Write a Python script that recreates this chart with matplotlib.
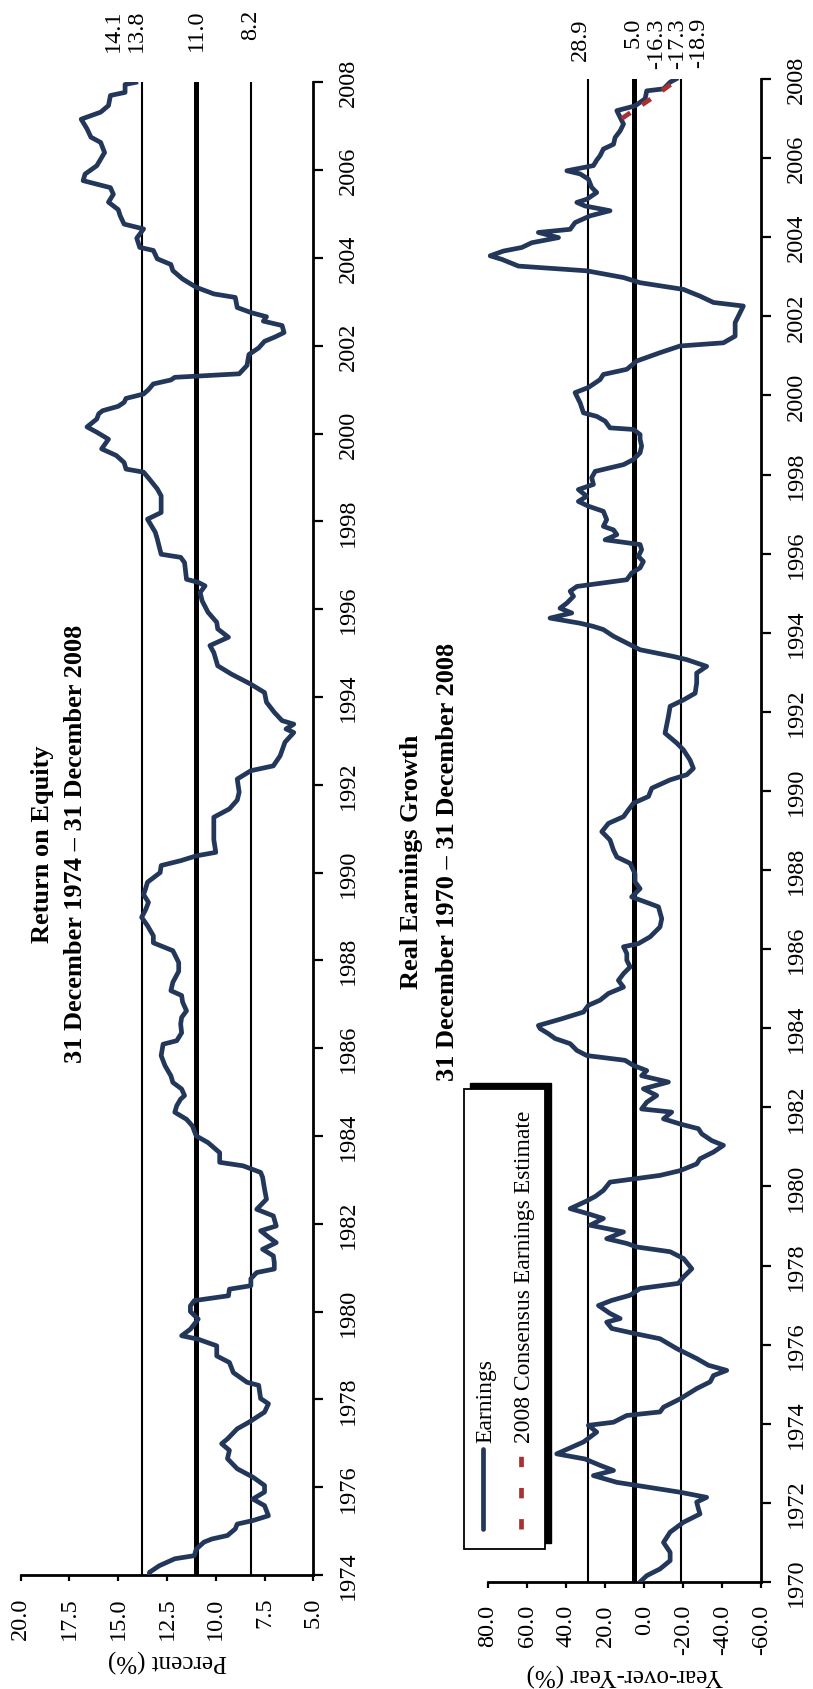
import matplotlib
matplotlib.use("Agg")
import matplotlib.pyplot as plt
from matplotlib.patches import Rectangle
from matplotlib.lines import Line2D

plt.rcParams['font.family'] = ['Liberation Serif', 'DejaVu Serif']

# ---- Return on Equity ----
roe_year = [1974.00, 1974.06, 1974.21, 1974.37, 1974.44, 1974.59, 1974.75, 1974.82, 1974.90, 1975.05,
            1975.16, 1975.24, 1975.35, 1975.58, 1975.73, 1975.89, 1976.04, 1976.23, 1976.42, 1976.65,
            1976.84, 1976.99, 1977.10, 1977.33, 1977.48, 1977.71, 1977.90, 1978.02, 1978.32, 1978.39,
            1978.61, 1978.84, 1978.99, 1979.22, 1979.37, 1979.45, 1979.60, 1979.83, 1980.00, 1980.13,
            1980.25, 1980.36, 1980.51, 1980.59, 1980.75, 1980.89, 1980.97, 1981.12, 1981.27, 1981.42,
            1981.57, 1981.70, 1981.84, 1981.95, 1982.18, 1982.33, 1982.56, 1982.79, 1983.06, 1983.17,
            1983.32, 1983.40, 1983.62, 1983.85, 1984.00, 1984.23, 1984.38, 1984.54, 1984.69, 1984.84,
            1984.92, 1985.07, 1985.22, 1985.37, 1985.60, 1985.83, 1986.09, 1986.17, 1986.35, 1986.55,
            1986.70, 1986.85, 1987.05, 1987.20, 1987.31, 1987.50, 1987.75, 1987.95, 1988.22, 1988.40,
            1988.56, 1988.79, 1988.98, 1989.15, 1989.32, 1989.50, 1989.63, 1989.78, 1990.00, 1990.16,
            1990.27, 1990.38, 1990.46, 1990.75, 1990.99, 1991.26, 1991.45, 1991.65, 1991.83, 1992.13,
            1992.32, 1992.43, 1992.66, 1992.97, 1993.19, 1993.27, 1993.38, 1993.46, 1993.65, 1993.88,
            1994.10, 1994.29, 1994.52, 1994.71, 1995.01, 1995.17, 1995.36, 1995.55, 1995.70, 1995.93,
            1996.19, 1996.38, 1996.53, 1996.61, 1996.68, 1997.06, 1997.18, 1997.25, 1997.60, 1997.75,
            1998.05, 1998.20, 1998.58, 1998.74, 1998.96, 1999.12, 1999.19, 1999.34, 1999.50, 1999.65,
            1999.87, 2000.03, 2000.15, 2000.33, 2000.45, 2000.52, 2000.62, 2000.71, 2000.80, 2000.90,
            2001.00, 2001.13, 2001.22, 2001.28, 2001.36, 2001.55, 2001.80, 2001.95, 2002.10, 2002.20,
            2002.30, 2002.46, 2002.56, 2002.66, 2002.75, 2002.87, 2003.10, 2003.18, 2003.33, 2003.52,
            2003.71, 2003.85, 2003.98, 2004.17, 2004.24, 2004.45, 2004.66, 2004.77, 2004.96, 2005.10,
            2005.27, 2005.45, 2005.60, 2005.76, 2005.91, 2006.10, 2006.25, 2006.40, 2006.63, 2006.75,
            2006.94, 2007.16, 2007.32, 2007.47, 2007.70, 2007.77, 2007.95, 2008.00]
roe_val = [13.4, 13.4, 12.9, 12.1, 11.1, 11.0, 10.6, 10.2, 9.4, 9.0,
           8.9, 8.1, 7.3, 7.5, 8.1, 7.5, 7.5, 8.1, 8.9, 9.4,
           9.3, 9.7, 9.4, 8.9, 8.3, 7.5, 7.3, 7.7, 7.8, 8.4,
           9.1, 9.3, 9.95, 9.95, 10.9, 11.75, 11.3, 10.9, 11.3, 11.3,
           11.1, 9.35, 9.3, 8.2, 8.2, 7.9, 7.0, 7.0, 7.05, 7.6,
           6.9, 7.3, 7.7, 6.9, 7.05, 7.9, 7.4, 7.5, 7.6, 7.7,
           8.6, 9.8, 9.8, 10.4, 11.0, 11.2, 11.5, 12.1, 12.0, 11.8,
           11.6, 11.75, 12.2, 12.3, 12.6, 12.8, 12.7, 12.0, 11.75, 11.8,
           11.75, 11.5, 11.7, 11.75, 12.3, 12.2, 11.9, 11.9, 12.2, 13.2,
           13.2, 13.5, 13.8, 13.6, 13.45, 13.7, 13.6, 13.5, 12.85, 12.8,
           11.8, 11.0, 10.0, 10.1, 10.1, 10.1, 9.3, 8.9, 8.8, 8.9,
           8.2, 7.05, 6.7, 6.45, 6.0, 6.4, 6.0, 6.6, 7.0, 7.4,
           7.5, 8.2, 9.2, 9.9, 10.1, 10.3, 9.35, 9.9, 9.95, 10.4,
           10.7, 10.8, 10.55, 10.9, 11.5, 11.6, 11.8, 12.8, 13.0, 13.1,
           13.5, 12.8, 12.8, 13.0, 13.4, 13.7, 14.6, 14.7, 15.1, 15.85,
           15.5, 16.1, 16.6, 16.1, 16.0, 15.8, 15.0, 14.7, 14.6, 13.7,
           13.45, 13.2, 12.3, 12.1, 8.8, 8.4, 8.3, 7.8, 7.5, 6.96,
           6.5, 6.6, 7.56, 7.4, 8.16, 8.9, 9.0, 10.1, 11.0, 11.7,
           12.2, 12.3, 13.0, 13.2, 13.9, 14.05, 13.7, 14.7, 14.9, 15.0,
           15.5, 15.25, 15.4, 16.8, 16.7, 16.1, 15.9, 15.7, 15.9, 16.4,
           16.6, 16.9, 15.9, 15.5, 15.4, 14.65, 14.65, 14.1]
roe_lines = [13.8, 11.0, 8.2]
roe_line_width = [1.5, 3.6, 1.5]
roe_labels = ['14.1', '13.8', '11.0', '8.2']
roe_label_at = [14.1, 13.8, 11.0, 8.2]
roe_label_dx = [-16, -4, 0, 0]   # points, to keep the stacked labels apart

# ---- Real earnings growth ----
eps_year = [1970.00, 1970.16, 1970.33, 1970.54, 1970.75, 1971.00, 1971.26, 1971.51, 1971.72, 1971.85,
            1972.02, 1972.14, 1972.27, 1972.52, 1972.69, 1972.82, 1972.95, 1973.11, 1973.24, 1973.54,
            1973.79, 1973.96, 1974.04, 1974.21, 1974.30, 1974.42, 1974.63, 1974.89, 1975.06, 1975.22,
            1975.35, 1975.48, 1975.65, 1975.90, 1976.15, 1976.28, 1976.41, 1976.57, 1976.66, 1976.79,
            1976.99, 1977.12, 1977.25, 1977.42, 1977.55, 1977.71, 1977.92, 1978.18, 1978.35, 1978.47,
            1978.56, 1978.68, 1978.85, 1979.02, 1979.19, 1979.32, 1979.44, 1979.62, 1979.75, 1979.90,
            1980.11, 1980.19, 1980.28, 1980.40, 1980.57, 1980.70, 1980.87, 1981.04, 1981.16, 1981.33,
            1981.46, 1981.58, 1981.71, 1981.88, 1981.96, 1982.13, 1982.30, 1982.47, 1982.64, 1982.80,
            1982.93, 1983.06, 1983.19, 1983.31, 1983.44, 1983.61, 1983.74, 1983.86, 1983.99, 1984.07,
            1984.24, 1984.41, 1984.58, 1984.71, 1984.88, 1985.04, 1985.21, 1985.38, 1985.55, 1985.72,
            1985.89, 1986.06, 1986.14, 1986.31, 1986.56, 1986.77, 1987.07, 1987.15, 1987.32, 1987.53,
            1987.70, 1987.91, 1988.17, 1988.33, 1988.50, 1988.76, 1988.97, 1989.18, 1989.35, 1989.52,
            1989.69, 1989.86, 1990.07, 1990.28, 1990.41, 1990.57, 1990.78, 1991.04, 1991.21, 1991.46,
            1991.88, 1992.14, 1992.30, 1992.47, 1992.73, 1992.98, 1993.15, 1993.32, 1993.40, 1993.57,
            1993.74, 1993.91, 1994.08, 1994.16, 1994.24, 1994.37, 1994.50, 1994.62, 1994.75, 1994.92,
            1995.05, 1995.17, 1995.34, 1995.51, 1995.64, 1995.80, 1995.93, 1996.10, 1996.23, 1996.35,
            1996.48, 1996.60, 1996.69, 1996.86, 1997.07, 1997.20, 1997.32, 1997.45, 1997.62, 1997.75,
            1997.92, 1998.08, 1998.25, 1998.38, 1998.55, 1998.72, 1998.89, 1999.01, 1999.14, 1999.18,
            1999.35, 1999.47, 1999.56, 1999.81, 2000.07, 2000.20, 2000.40, 2000.53, 2000.66, 2000.87,
            2001.08, 2001.25, 2001.33, 2001.50, 2001.84, 2002.09, 2002.26, 2002.35, 2002.51, 2002.68,
            2002.85, 2002.98, 2003.15, 2003.27, 2003.44, 2003.53, 2003.65, 2003.74, 2003.86, 2003.99,
            2004.12, 2004.20, 2004.37, 2004.54, 2004.67, 2004.79, 2004.88, 2004.96, 2005.13, 2005.26,
            2005.47, 2005.60, 2005.68, 2005.81, 2005.95, 2006.06, 2006.23, 2006.35, 2006.52, 2006.69,
            2006.86, 2007.03, 2007.20, 2007.32, 2007.50, 2007.70, 2007.75, 2007.92, 2008.00]
eps_val = [2.1, -1.3, -8.1, -13.3, -13.3, -9.9, -13.3, -20.1, -28.6, -27.8,
           -26.9, -32.0, -18.4, 14.0, 26.0, 15.7, 22.6, 30.3, 44.8, 31.1,
           24.3, 28.6, 15.7, 8.9, -8.1, -9.9, -18.4, -26.9, -33.8, -35.5,
           -42.3, -32.9, -26.9, -16.7, -8.1, 4.7, 16.6, 19.2, 12.3, 17.5,
           23.4, 16.6, 7.2, 2.1, -17.5, -20.1, -24.4, -20.1, -13.3, 3.8,
           8.9, 19.2, 10.6, 27.7, 20.9, 29.4, 37.9, 30.0, 25.0, 20.9,
           17.5, 5.5, -8.1, -18.4, -26.9, -28.6, -35.5, -40.6, -34.6, -29.5,
           -27.8, -18.4, -9.9, -14.1, 1.3, -1.3, -6.4, 0.4, -12.4, 1.3,
           -1.3, 5.5, 9.8, 29.4, 34.5, 37.9, 45.6, 49.0, 53.3, 54.2,
           42.2, 31.1, 28.6, 22.6, 18.3, 10.6, 13.2, 10.6, 7.2, 8.9,
           8.9, 10.6, 3.0, -3.0, -8.1, -9.0, -7.3, -3.0, 6.4, 2.1,
           4.7, 4.7, 7.2, 14.0, 15.7, 17.5, 21.7, 18.3, 10.6, 8.1,
           5.5, -2.2, -3.9, -13.3, -21.8, -25.2, -23.5, -20.1, -16.7, -10.7,
           -12.4, -13.3, -20.1, -26.1, -26.9, -26.9, -32.0, -21.8, -15.0, 2.1,
           8.9, 15.7, 20.9, 26.0, 32.8, 48.2, 37.1, 43.1, 39.6, 36.2,
           37.9, 34.5, 8.9, 6.4, 2.1, 0.4, 3.0, 1.3, 2.1, 20.0,
           14.0, 15.7, 20.9, 19.2, 20.9, 28.6, 33.7, 29.4, 33.7, 26.0,
           26.9, 25.1, 10.6, 5.5, 2.1, 1.3, 2.1, 2.1, 5.5, 17.5,
           20.0, 24.3, 31.1, 32.8, 35.4, 28.6, 22.6, 20.9, 8.9, 3.8,
           -8.1, -18.4, -40.6, -46.6, -46.6, -49.1, -50.8, -35.5, -28.6, -20.1,
           2.1, 10.6, 29.4, 64.4, 72.9, 78.9, 72.1, 62.7, 57.6, 43.9,
           54.2, 37.9, 35.4, 27.7, 17.5, 30.3, 34.5, 29.4, 24.3, 26.9,
           28.6, 32.8, 39.6, 26.0, 24.3, 22.6, 20.9, 15.7, 14.9, 12.3,
           10.6, 12.3, 14.0, 4.7, -0.5, -1.3, -9.9, -13.3, -16.3]
est_year = [2007.00, 2007.25, 2007.50, 2007.75, 2008.00]
est_val = [11.5, 4.0, -3.5, -10.5, -17.3]
eps_lines = [28.9, 5.0, -18.9]
eps_line_width = [1.5, 3.6, 1.5]
eps_labels = ['28.9', '5.0', '-16.3', '-17.3', '-18.9']
eps_label_at = [28.9, 5.0, -16.3, -17.3, -18.9]
eps_label_dx = [-5, -1, -14, 0, 13]

navy = '#22375a'
brick = '#a83232'

W, H = 813, 1690
fig = plt.figure(figsize=(W / 100, H / 100), dpi=100)


def fx(x):
    return x / W


def fy(y):
    return 1 - y / H


def style_axis(ax, xticks, ylo, label, label_pad):
    for s in ['top', 'left']:
        ax.spines[s].set_visible(False)
    for s in ['bottom', 'right']:
        ax.spines[s].set_linewidth(2)
    ax.yaxis.tick_right()
    ax.set_xticks(xticks)
    ax.set_xticklabels(['%.1f' % t for t in xticks])
    ax.set_yticks(list(range(ylo, 2009, 2)))
    ax.tick_params(axis='y', direction='out', length=7, width=1.6, labelsize=17.5,
                   labelrotation=90, pad=11)
    ax.tick_params(axis='x', direction='out', length=4.5, width=1.6, labelsize=17.5,
                   labelrotation=90, pad=11)
    for t in ax.get_yticklabels():
        t.set_va('center')
    ax.set_xlabel(label, rotation=180, fontsize=18, labelpad=label_pad)


# ROE panel
ax1 = fig.add_axes([fx(20.7), fy(1576), fx(313.3) - fx(20.7), fy(83.3) - fy(1576)])
ax1.set_xlim(20, 5)
ax1.set_ylim(1974, 2008)
for v, lw in zip(roe_lines, roe_line_width):
    ax1.axvline(v, color='black', lw=lw, zorder=1)
ax1.plot(roe_val, roe_year, color=navy, lw=3.4, solid_joinstyle='round', zorder=3)
style_axis(ax1, [20, 17.5, 15, 12.5, 10, 7.5, 5], 1974, 'Percent (%)', 6)
for txt, v, dx in zip(roe_labels, roe_label_at, roe_label_dx):
    ax1.annotate(txt, xy=(v, 1), xycoords=('data', 'axes fraction'), xytext=(dx, 52.8),
                 textcoords='offset points', rotation=90, ha='center', va='top',
                 fontsize=17.5, annotation_clip=False)

# Earnings panel
ax2 = fig.add_axes([fx(488), fy(1583), fx(761.3) - fx(488), fy(80) - fy(1583)])
ax2.set_xlim(80, -60)
ax2.set_ylim(1970, 2008)
for v, lw in zip(eps_lines, eps_line_width):
    ax2.axvline(v, color='black', lw=lw, zorder=1)
ax2.plot(eps_val, eps_year, color=navy, lw=3.4, solid_joinstyle='round', zorder=3)
ax2.plot(est_val, est_year, color=brick, lw=3.4, dashes=(2.2, 3.0), zorder=4)
style_axis(ax2, [80, 60, 40, 20, 0, -20, -40, -60], 1970, 'Year-over-Year (%)', 6)
for txt, v, dx in zip(eps_labels, eps_label_at, eps_label_dx):
    ax2.annotate(txt, xy=(v, 1), xycoords=('data', 'axes fraction'), xytext=(dx, 44.6),
                 textcoords='offset points', rotation=90, ha='center', va='top',
                 fontsize=17.5, annotation_clip=False)

# titles
fig.text(fx(42), fy(844), 'Return on Equity', rotation=90, ha='center', va='center',
         fontsize=19, fontweight='bold')
fig.text(fx(75), fy(844), '31 December 1974 \u2013 31 December 2008', rotation=90,
         ha='center', va='center', fontsize=19, fontweight='bold')
fig.text(fx(411), fy(862), 'Real Earnings Growth', rotation=90, ha='center', va='center',
         fontsize=19, fontweight='bold')
fig.text(fx(447), fy(862), '31 December 1970 \u2013 31 December 2008', rotation=90,
         ha='center', va='center', fontsize=19, fontweight='bold')

# legend box with shadow, drawn by hand so its text can be turned
fig.add_artist(Rectangle((fx(470), fy(1544)), fx(551) - fx(470), fy(1084) - fy(1544),
                         transform=fig.transFigure, facecolor='black', edgecolor='black', zorder=5))
fig.add_artist(Rectangle((fx(464), fy(1550)), fx(545) - fx(464), fy(1090) - fy(1550),
                         transform=fig.transFigure, facecolor='white', edgecolor='black',
                         lw=1.3, zorder=6))
fig.add_artist(Line2D([fx(483), fx(483)], [fy(1530), fy(1450)], transform=fig.transFigure,
                      color=navy, lw=3.4, solid_capstyle='round', zorder=7))
fig.add_artist(Line2D([fx(521), fx(521)], [fy(1530), fy(1450)], transform=fig.transFigure,
                      color=brick, lw=3.4, dashes=(2.2, 4.4), zorder=7))
fig.text(fx(486), fy(1443), 'Earnings', rotation=90, ha='center', va='bottom', fontsize=17,
         zorder=8)
fig.text(fx(524), fy(1443), '2008 Consensus Earnings Estimate', rotation=90, ha='center',
         va='bottom', fontsize=17, zorder=8)

fig.savefig('out.png', dpi=100)
